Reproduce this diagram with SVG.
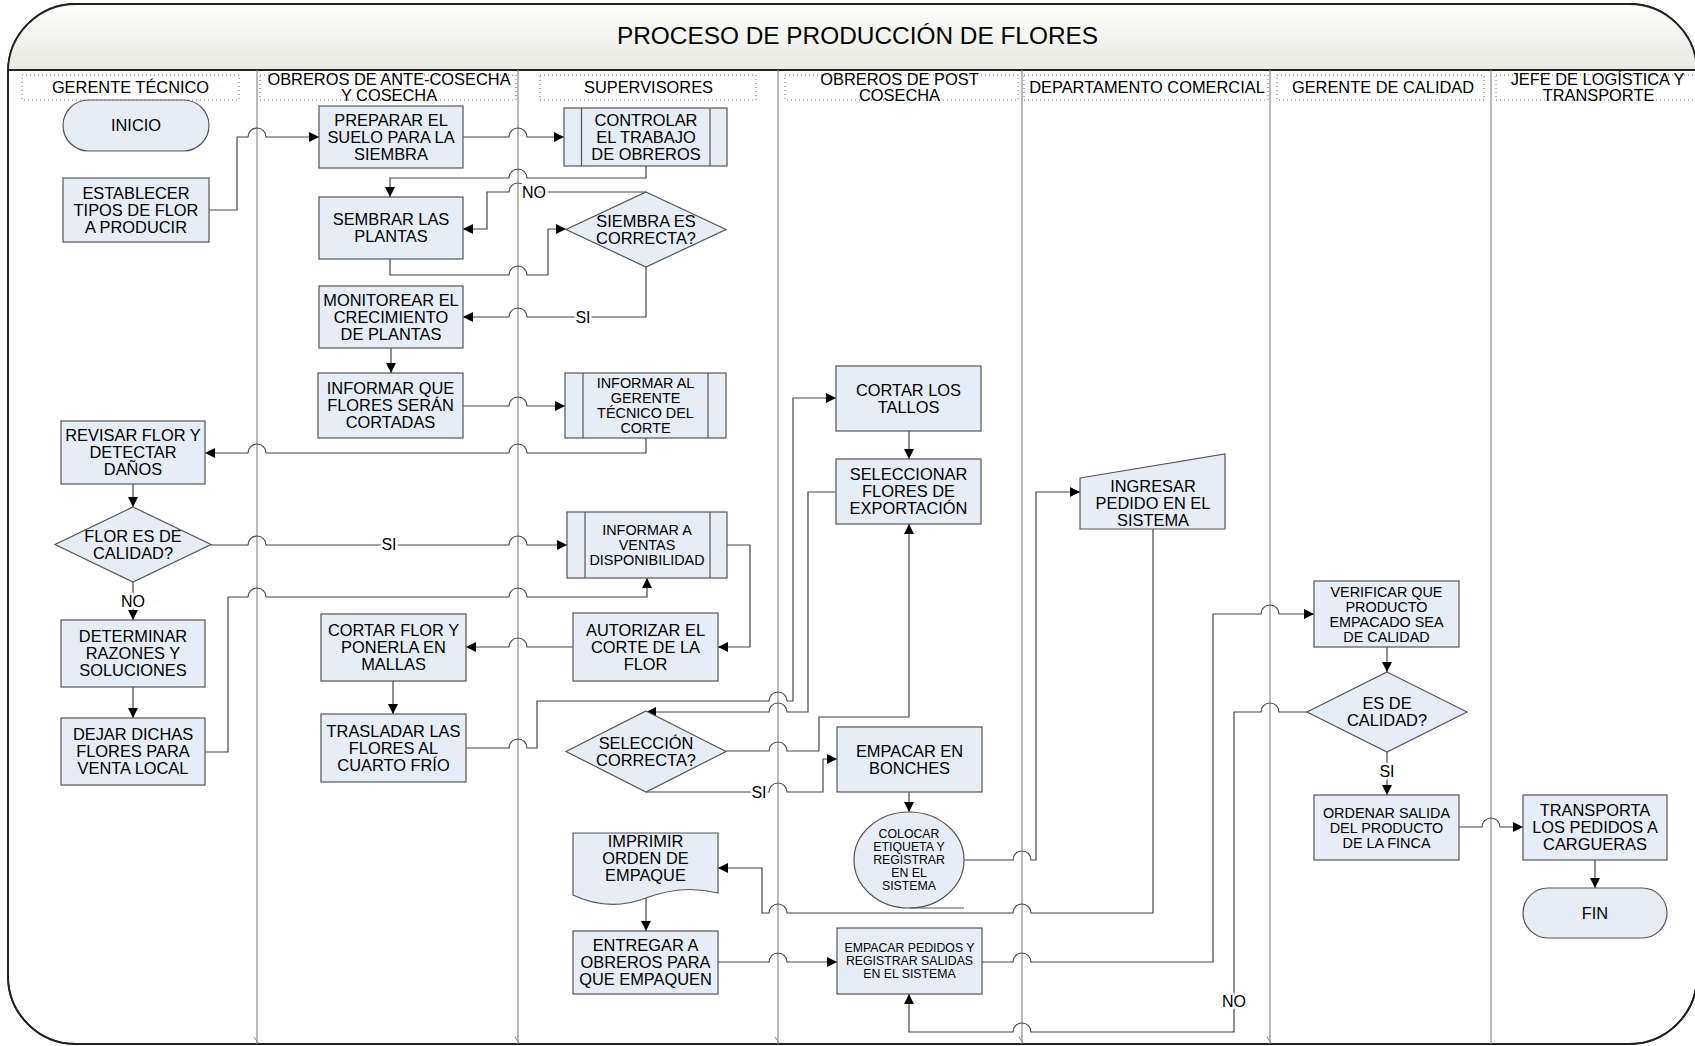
<svg xmlns="http://www.w3.org/2000/svg" width="1695" height="1046" viewBox="0 0 1695 1046">
  <defs>
    <linearGradient id="titleFill" x1="0" y1="0" x2="0" y2="1">
      <stop offset="0" stop-color="#ffffff"/>
      <stop offset="1" stop-color="#e9e9e2"/>
    </linearGradient>
    <clipPath id="frameClip">
      <rect x="8" y="4" width="1689" height="1040" rx="68" ry="68"/>
    </clipPath>
    <marker id="ah" markerUnits="userSpaceOnUse" markerWidth="11" markerHeight="11" refX="10" refY="5.5" orient="auto">
      <path d="M0,0.5 L10,5.5 L0,10.5 Z" fill="#000"/>
    </marker>
    <style>
      .frame { fill: #ffffff; stroke: #222; stroke-width: 1.8; }
      .sep { stroke: #222; stroke-width: 1.8; }
      .lane { stroke: #8c8c8c; stroke-width: 1.2; }
      .tick { stroke: #8c8c8c; stroke-width: 1; }
      .hdr { fill: none; stroke: #6e6e6e; stroke-width: 1; stroke-dasharray: 1 3; }
      .node { fill: #e6edf7; stroke: #555; stroke-width: 1.2; }
      .inner { stroke: #555; stroke-width: 1.2; }
      .t { font-family: "Liberation Sans", Arial, sans-serif; font-size: 16.4px; text-anchor: middle; fill: #000; }
      .s { font-size: 14.4px; }
      .xs { font-size: 12.3px; }
      .title { font-family: "Liberation Sans", Arial, sans-serif; font-size: 24.4px; text-anchor: middle; fill: #000; }
      .conn path { fill: none; stroke: #454545; stroke-width: 1.2; }
      .conn .arr { marker-end: url(#ah); }
      .lbl { font-family: "Liberation Sans", Arial, sans-serif; font-size: 16px; text-anchor: middle; fill: #000;
             paint-order: stroke; stroke: #fff; stroke-width: 5px; stroke-linejoin: round; }
    </style>
  </defs>

  <!-- pool frame and title bar -->
  <g id="pool">
    <rect class="frame" x="8" y="4" width="1689" height="1040" rx="68" ry="68"/>
    <rect x="0" y="0" width="1700" height="70" fill="url(#titleFill)" clip-path="url(#frameClip)"/>
    <rect x="8" y="4" width="1689" height="1040" rx="68" ry="68" fill="none" stroke="#222" stroke-width="1.8"/>
    <line class="sep" x1="8" y1="70" x2="1697" y2="70"/>
    <text class="title" x="857.5" y="44">PROCESO DE PRODUCCIÓN DE FLORES</text>
  </g>

  <!-- swimlane dividers -->
  <g id="lanes">
    <line class="lane" x1="257" y1="70" x2="257" y2="1044"/>
    <line class="lane" x1="518" y1="70" x2="518" y2="1044"/>
    <line class="lane" x1="778" y1="70" x2="778" y2="1044"/>
    <line class="lane" x1="1022" y1="70" x2="1022" y2="1044"/>
    <line class="lane" x1="1270" y1="70" x2="1270" y2="1044"/>
    <line class="lane" x1="1491" y1="70" x2="1491" y2="1044"/>
    <line class="tick" x1="254" y1="1037" x2="258" y2="1043"/>
    <line class="tick" x1="515" y1="1037" x2="519" y2="1043"/>
    <line class="tick" x1="775" y1="1037" x2="779" y2="1043"/>
    <line class="tick" x1="1019" y1="1037" x2="1023" y2="1043"/>
    <line class="tick" x1="1267" y1="1037" x2="1271" y2="1043"/>
  </g>

  <!-- lane headers -->
  <g id="lane-headers">
    <rect class="hdr" x="22" y="75" width="217" height="25"/>
    <text class="t" x="130.5" y="93">GERENTE TÉCNICO</text>
    <rect class="hdr" x="260" y="75" width="256" height="25"/>
    <text class="t" x="389" y="84.5">OBREROS DE ANTE-COSECHA</text>
    <text class="t" x="389" y="101">Y COSECHA</text>
    <rect class="hdr" x="540" y="75" width="216" height="25"/>
    <text class="t" x="648.5" y="93">SUPERVISORES</text>
    <rect class="hdr" x="785" y="75" width="233" height="25"/>
    <text class="t" x="899.5" y="84.5">OBREROS DE POST</text>
    <text class="t" x="899.5" y="101">COSECHA</text>
    <rect class="hdr" x="1024" y="75" width="244" height="25"/>
    <text class="t" x="1147" y="93">DEPARTAMENTO COMERCIAL</text>
    <rect class="hdr" x="1277" y="75" width="207" height="25"/>
    <text class="t" x="1383" y="93">GERENTE DE CALIDAD</text>
    <rect class="hdr" x="1496" y="75" width="210" height="25"/>
    <text class="t" x="1597.5" y="84.5">JEFE DE LOGÍSTICA Y</text>
    <text class="t" x="1598.5" y="101">TRANSPORTE</text>
  </g>

  <!-- connectors -->
  <g id="connectors" class="conn">
    <path class="arr" d="M209,210 H237 V137 H248 A9,9 0 0 1 266,137 H319"/>
    <path class="arr" d="M463,137 H509 A9,9 0 0 1 527,137 H564"/>
    <path class="arr" d="M646,166 V178 H527 A9,9 0 0 0 509,178 H390 V197"/>
    <path class="arr" d="M646,192 H527 A9,9 0 0 0 509,192 H487 V229 H463"/>
    <path class="arr" d="M390,259 V275 H509 A9,9 0 0 1 527,275 H548 V229 H566"/>
    <path class="arr" d="M646,267 V317 H527 A9,9 0 0 0 509,317 H463"/>
    <path class="arr" d="M391,348 V373"/>
    <path class="arr" d="M463,406 H509 A9,9 0 0 1 527,406 H565"/>
    <path class="arr" d="M646,438 V453 H527 A9,9 0 0 0 509,453 H266 A9,9 0 0 0 248,453 H205"/>
    <path class="arr" d="M133,484 V507"/>
    <path class="arr" d="M211,545 H248 A9,9 0 0 1 266,545 H509 A9,9 0 0 1 527,545 H567"/>
    <path class="arr" d="M133,582 V620"/>
    <path class="arr" d="M133,687 V718"/>
    <path class="arr" d="M205,752 H228 V597 H248 A9,9 0 0 1 266,597 H509 A9,9 0 0 1 527,597 H647 V578"/>
    <path class="arr" d="M727,545 H750 V647 H718"/>
    <path class="arr" d="M573,647 H527 A9,9 0 0 0 509,647 H466"/>
    <path class="arr" d="M393,681 V714"/>
    <path class="arr" d="M466,748 H509 A9,9 0 0 1 527,748 H537 V701 H769 A9,9 0 0 1 787,701 H793 V398 H836"/>
    <path class="arr" d="M909,431 V459"/>
    <path class="arr" d="M836,492 H808 V712 H787 A9,9 0 0 0 769,712 H646"/>
    <path class="arr" d="M726,751 H769 A9,9 0 0 1 787,751 H819 V717 H909 V524"/>
    <path class="arr" d="M646,792 H769 A9,9 0 0 1 787,792 H823 V759 H837"/>
    <path class="arr" d="M909,792 V812"/>
    <path class="arr" d="M964,860 H1013 A9,9 0 0 1 1031,860 H1036 V492 H1080"/>
    <path class="arr" d="M1153,529 V913 H1031 A9,9 0 0 0 1013,913 H787 A9,9 0 0 0 769,913 H762 V868 H718"/>
    <path class="arr" d="M646,898 V931"/>
    <path class="arr" d="M718,962 H769 A9,9 0 0 1 787,962 H837"/>
    <path class="arr" d="M982,962 H1013 A9,9 0 0 1 1031,962 H1213 V614 H1261 A9,9 0 0 1 1279,614 H1314"/>
    <path class="arr" d="M1387,647 V672"/>
    <path class="arr" d="M1307,712 H1279 A9,9 0 0 0 1261,712 H1234 V1032 H1031 A9,9 0 0 0 1013,1032 H909 V994"/>
    <path class="arr" d="M1387,752 V795"/>
    <path class="arr" d="M1459,827 H1482 A9,9 0 0 1 1500,827 H1523"/>
    <path class="arr" d="M1595,860 V888"/>
    <text class="lbl" x="534" y="198">NO</text>
    <text class="lbl" x="583" y="323">SI</text>
    <text class="lbl" x="389" y="550">SI</text>
    <text class="lbl" x="133" y="607">NO</text>
    <text class="lbl" x="759" y="798">SI</text>
    <text class="lbl" x="1387" y="777">SI</text>
    <text class="lbl" x="1234" y="1007">NO</text>
  </g>

  <!-- GERENTE TÉCNICO -->
  <g id="n-inicio">
    <rect class="node" x="63" y="100" width="146" height="51" rx="25.5" ry="25.5"/>
    <text class="t" x="136" y="131">INICIO</text>
  </g>
  <g id="n-establecer">
    <rect class="node" x="63" y="178" width="146" height="64"/>
    <text class="t"><tspan x="136" y="198.7">ESTABLECER</tspan><tspan x="136" y="215.7">TIPOS DE FLOR</tspan><tspan x="136" y="232.7">A PRODUCIR</tspan></text>
  </g>
  <g id="n-revisar">
    <rect class="node" x="61" y="421" width="144" height="63"/>
    <text class="t"><tspan x="133" y="441.2">REVISAR FLOR Y</tspan><tspan x="133" y="458.2">DETECTAR</tspan><tspan x="133" y="475.2">DAÑOS</tspan></text>
  </g>
  <g id="n-flor-calidad">
    <polygon class="node" points="133,507 211,544.5 133,582 55,544.5"/>
    <text class="t"><tspan x="133" y="541.7">FLOR ES DE</tspan><tspan x="133" y="558.7">CALIDAD?</tspan></text>
  </g>
  <g id="n-determinar">
    <rect class="node" x="61" y="620" width="144" height="67"/>
    <text class="t"><tspan x="133" y="642.2">DETERMINAR</tspan><tspan x="133" y="659.2">RAZONES Y</tspan><tspan x="133" y="676.2">SOLUCIONES</tspan></text>
  </g>
  <g id="n-dejar">
    <rect class="node" x="61" y="718" width="144" height="67"/>
    <text class="t"><tspan x="133" y="740.2">DEJAR DICHAS</tspan><tspan x="133" y="757.2">FLORES PARA</tspan><tspan x="133" y="774.2">VENTA LOCAL</tspan></text>
  </g>

  <!-- OBREROS DE ANTE-COSECHA Y COSECHA -->
  <g id="n-preparar">
    <rect class="node" x="319" y="106" width="144" height="62"/>
    <text class="t"><tspan x="391" y="125.7">PREPARAR EL</tspan><tspan x="391" y="142.7">SUELO PARA LA</tspan><tspan x="391" y="159.7">SIEMBRA</tspan></text>
  </g>
  <g id="n-sembrar">
    <rect class="node" x="319" y="197" width="144" height="62"/>
    <text class="t"><tspan x="391" y="225.2">SEMBRAR LAS</tspan><tspan x="391" y="242.2">PLANTAS</tspan></text>
  </g>
  <g id="n-monitorear">
    <rect class="node" x="319" y="286" width="144" height="62"/>
    <text class="t"><tspan x="391" y="305.7">MONITOREAR EL</tspan><tspan x="391" y="322.7">CRECIMIENTO</tspan><tspan x="391" y="339.7">DE PLANTAS</tspan></text>
  </g>
  <g id="n-informar-que">
    <rect class="node" x="318" y="373" width="145" height="65"/>
    <text class="t"><tspan x="390.5" y="394.2">INFORMAR QUE</tspan><tspan x="390.5" y="411.2">FLORES SERÁN</tspan><tspan x="390.5" y="428.2">CORTADAS</tspan></text>
  </g>
  <g id="n-cortar-flor">
    <rect class="node" x="321" y="614" width="145" height="67"/>
    <text class="t"><tspan x="393.5" y="636.2">CORTAR FLOR Y</tspan><tspan x="393.5" y="653.2">PONERLA EN</tspan><tspan x="393.5" y="670.2">MALLAS</tspan></text>
  </g>
  <g id="n-trasladar">
    <rect class="node" x="321" y="714" width="145" height="68"/>
    <text class="t"><tspan x="393.5" y="736.7">TRASLADAR LAS</tspan><tspan x="393.5" y="753.7">FLORES AL</tspan><tspan x="393.5" y="770.7">CUARTO FRÍO</tspan></text>
  </g>

  <!-- SUPERVISORES -->
  <g id="n-controlar">
    <rect class="node" x="564" y="108" width="163" height="58"/>
    <line class="inner" x1="581.5" y1="108" x2="581.5" y2="166"/>
    <line class="inner" x1="710" y1="108" x2="710" y2="166"/>
    <text class="t"><tspan x="646" y="125.7">CONTROLAR</tspan><tspan x="646" y="142.7">EL TRABAJO</tspan><tspan x="646" y="159.7">DE OBREROS</tspan></text>
  </g>
  <g id="n-siembra-correcta">
    <polygon class="node" points="646,192 726,229.5 646,267 566,229.5"/>
    <text class="t"><tspan x="646" y="226.7">SIEMBRA ES</tspan><tspan x="646" y="243.7">CORRECTA?</tspan></text>
  </g>
  <g id="n-informar-gerente">
    <rect class="node" x="565" y="373" width="161" height="65"/>
    <line class="inner" x1="583" y1="373" x2="583" y2="438"/>
    <line class="inner" x1="708" y1="373" x2="708" y2="438"/>
    <text class="t s"><tspan x="645.5" y="388">INFORMAR AL</tspan><tspan x="645.5" y="403">GERENTE</tspan><tspan x="645.5" y="418">TÉCNICO DEL</tspan><tspan x="645.5" y="433">CORTE</tspan></text>
  </g>
  <g id="n-informar-ventas">
    <rect class="node" x="567" y="512" width="160" height="66"/>
    <line class="inner" x1="585" y1="512" x2="585" y2="578"/>
    <line class="inner" x1="710" y1="512" x2="710" y2="578"/>
    <text class="t s"><tspan x="647" y="535">INFORMAR A</tspan><tspan x="647" y="550">VENTAS</tspan><tspan x="647" y="565">DISPONIBILIDAD</tspan></text>
  </g>
  <g id="n-autorizar">
    <rect class="node" x="573" y="613" width="145" height="68"/>
    <text class="t"><tspan x="645.5" y="635.7">AUTORIZAR EL</tspan><tspan x="645.5" y="652.7">CORTE DE LA</tspan><tspan x="645.5" y="669.7">FLOR</tspan></text>
  </g>
  <g id="n-seleccion-correcta">
    <polygon class="node" points="646,711 726,751.5 646,792 566,751.5"/>
    <text class="t"><tspan x="646" y="748.7">SELECCIÓN</tspan><tspan x="646" y="765.7">CORRECTA?</tspan></text>
  </g>
  <g id="n-imprimir">
    <path class="node" d="M573,833 H718 V893 Q683,884 646,898 T573,895 Z"/>
    <text class="t"><tspan x="645.5" y="847">IMPRIMIR</tspan><tspan x="645.5" y="864">ORDEN DE</tspan><tspan x="645.5" y="881">EMPAQUE</tspan></text>
  </g>
  <g id="n-entregar">
    <rect class="node" x="573" y="931" width="145" height="63"/>
    <text class="t"><tspan x="645.5" y="951.2">ENTREGAR A</tspan><tspan x="645.5" y="968.2">OBREROS PARA</tspan><tspan x="645.5" y="985.2">QUE EMPAQUEN</tspan></text>
  </g>

  <!-- OBREROS DE POST COSECHA -->
  <g id="n-cortar-tallos">
    <rect class="node" x="836" y="366" width="145" height="65"/>
    <text class="t"><tspan x="908.5" y="395.7">CORTAR LOS</tspan><tspan x="908.5" y="412.7">TALLOS</tspan></text>
  </g>
  <g id="n-seleccionar">
    <rect class="node" x="836" y="459" width="145" height="65"/>
    <text class="t"><tspan x="908.5" y="480.2">SELECCIONAR</tspan><tspan x="908.5" y="497.2">FLORES DE</tspan><tspan x="908.5" y="514.2">EXPORTACIÓN</tspan></text>
  </g>
  <g id="n-empacar-bonches">
    <rect class="node" x="837" y="727" width="145" height="65"/>
    <text class="t"><tspan x="909.5" y="756.7">EMPACAR EN</tspan><tspan x="909.5" y="773.7">BONCHES</tspan></text>
  </g>
  <g id="n-colocar">
    <ellipse class="node" cx="909" cy="860" rx="55" ry="48"/>
    <line class="inner" x1="909" y1="908" x2="964" y2="908"/>
    <text class="t xs"><tspan x="909" y="838">COLOCAR</tspan><tspan x="909" y="851">ETIQUETA Y</tspan><tspan x="909" y="864">REGISTRAR</tspan><tspan x="909" y="877">EN EL</tspan><tspan x="909" y="890">SISTEMA</tspan></text>
  </g>
  <g id="n-empacar-pedidos">
    <rect class="node" x="837" y="928" width="145" height="66"/>
    <text class="t xs"><tspan x="909.5" y="952">EMPACAR PEDIDOS Y</tspan><tspan x="909.5" y="965">REGISTRAR SALIDAS</tspan><tspan x="909.5" y="978">EN EL SISTEMA</tspan></text>
  </g>

  <!-- DEPARTAMENTO COMERCIAL -->
  <g id="n-ingresar">
    <polygon class="node" points="1080,478 1225,454 1225,529 1080,529"/>
    <text class="t"><tspan x="1153" y="492">INGRESAR</tspan><tspan x="1153" y="509">PEDIDO EN EL</tspan><tspan x="1153" y="526">SISTEMA</tspan></text>
  </g>

  <!-- GERENTE DE CALIDAD -->
  <g id="n-verificar">
    <rect class="node" x="1314" y="581" width="145" height="66"/>
    <text class="t s"><tspan x="1386.5" y="596.5">VERIFICAR QUE</tspan><tspan x="1386.5" y="611.5">PRODUCTO</tspan><tspan x="1386.5" y="626.5">EMPACADO SEA</tspan><tspan x="1386.5" y="641.5">DE CALIDAD</tspan></text>
  </g>
  <g id="n-es-calidad">
    <polygon class="node" points="1387,672 1467,712 1387,752 1307,712"/>
    <text class="t"><tspan x="1387" y="709.2">ES DE</tspan><tspan x="1387" y="726.2">CALIDAD?</tspan></text>
  </g>
  <g id="n-ordenar">
    <rect class="node" x="1314" y="795" width="145" height="65"/>
    <text class="t s"><tspan x="1386.5" y="817.5">ORDENAR SALIDA</tspan><tspan x="1386.5" y="832.5">DEL PRODUCTO</tspan><tspan x="1386.5" y="847.5">DE LA FINCA</tspan></text>
  </g>

  <!-- JEFE DE LOGÍSTICA Y TRANSPORTE -->
  <g id="n-transporta">
    <rect class="node" x="1523" y="795" width="144" height="65"/>
    <text class="t"><tspan x="1595" y="816.2">TRANSPORTA</tspan><tspan x="1595" y="833.2">LOS PEDIDOS A</tspan><tspan x="1595" y="850.2">CARGUERAS</tspan></text>
  </g>
  <g id="n-fin">
    <rect class="node" x="1523" y="888" width="144" height="50" rx="25" ry="25"/>
    <text class="t" x="1595" y="919">FIN</text>
  </g>
</svg>
